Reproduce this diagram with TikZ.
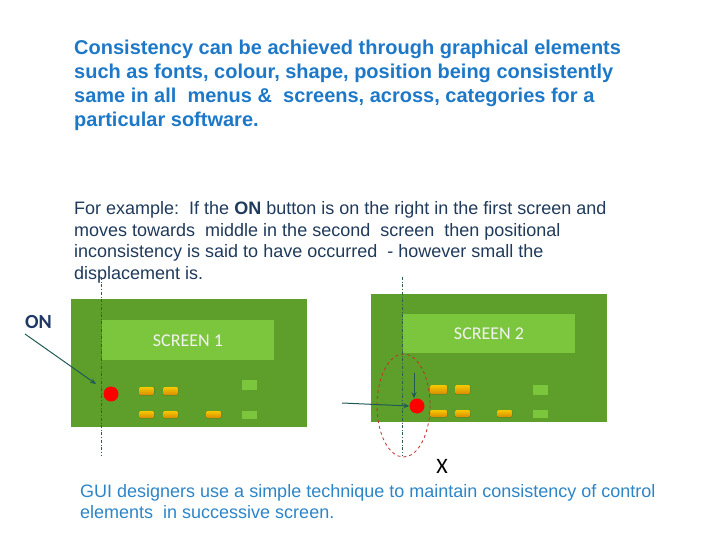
\documentclass[tikz,border=0pt]{standalone}
\usepackage{fontspec}
\setmainfont{Liberation Sans}
\newfontfamily\calib{Carlito}
\usetikzlibrary{arrows.meta}
\definecolor{titleblue}{HTML}{1E78C8}
\definecolor{navy}{HTML}{1F3A5A}
\definecolor{onnavy}{HTML}{1F3864}
\definecolor{botblue}{HTML}{2C85C8}
\definecolor{outergreen}{HTML}{5E9F2C}
\definecolor{innergreen}{HTML}{7CC63E}
\definecolor{btnorange}{HTML}{F2B000}
\definecolor{btnedge}{HTML}{D98C00}
\definecolor{arrowteal}{HTML}{1F5A55}
\definecolor{axis}{HTML}{2E5E48}
\definecolor{ellred}{HTML}{C0302A}
\tikzset{
  panel/.style={fill=outergreen, draw=none},
  lcd/.style={fill=innergreen, draw=none},
  obtn/.style={top color=btnorange!70!yellow, bottom color=btnedge, draw=none, rounded corners=1pt},
  gbtn/.style={fill=innergreen, draw=none},
  ondot/.style={circle, fill=red, draw=none, minimum size=15pt, inner sep=0pt},
  axisline/.style={axis, dash dot, line width=0.7pt},
  pointer/.style={arrowteal, line width=1pt, -{Stealth[length=6pt,width=5pt]}},
  scrlabel/.style={font=\calib\fontsize{18}{18}\selectfont, text=white!90!gray},
  para/.style={anchor=north west, inner sep=0pt, align=left},
}
\begin{document}
\begin{tikzpicture}[x=1pt,y=-1pt]
\useasboundingbox (0,0) rectangle (720,540);
% title
\node[para, text=titleblue, font=\bfseries\fontsize{20}{24}\selectfont] (title) at (74,40)
 {Consistency can be achieved through graphical elements\\
  such as fonts, colour, shape, position being consistently\\
  same in all\ \ menus \&\ \ screens, across, categories for a\\
  particular software.};
% example
\node[para, text=navy, font=\fontsize{18}{21.8}\selectfont] (example) at (74,201)
 {For example:\ \ If the \textbf{ON} button is on the right in the first screen and\\
  moves towards\ \ middle in the second\ \ screen\ \ then positional\\
  inconsistency is said to have occurred\ \ - however small the\\
  displacement is.};
% screen 1
\fill[panel] (71,299) rectangle (307,427);
\fill[lcd] (102,320) rectangle (274,360);
\node[scrlabel] (s1) at (188,341) {SCREEN 1};
\fill[obtn] (139,387) rectangle (154,395);
\fill[obtn] (163,387) rectangle (178,395);
\fill[obtn] (139,411) rectangle (154,418);
\fill[obtn] (163,411) rectangle (178,418);
\fill[obtn] (206,411) rectangle (221,418);
\fill[gbtn] (242,380) rectangle (257,390);
\fill[gbtn] (242,411) rectangle (257,419);
\coordinate (a1top) at (101,277);
\coordinate (a1bot) at (101,455);
\draw[axisline] (a1top) -- (a1bot);
\node[ondot] (dot1) at (111,394) {};
\node[text=onnavy, font=\calib\bfseries\fontsize{20}{20}\selectfont, anchor=base west, inner sep=0pt] (on) at (25,328) {ON};
\coordinate (onstart) at (25,334);
\coordinate (onend) at (96,384);
\draw[pointer] (onstart) -- (onend);
% screen 2
\fill[panel] (371,294) rectangle (607,422);
\fill[lcd] (403,314) rectangle (575,353);
\node[scrlabel] (s2) at (489,334) {SCREEN 2};
\fill[obtn] (430,385) rectangle (447,394);
\fill[obtn] (455,385) rectangle (470,394);
\fill[obtn] (430,410) rectangle (447,417);
\fill[obtn] (455,410) rectangle (470,417);
\fill[obtn] (497,410) rectangle (512,417);
\fill[gbtn] (533,385) rectangle (548,395);
\fill[gbtn] (533,410) rectangle (548,418);
\coordinate (a2top) at (402,277);
\coordinate (a2bot) at (402,455);
\draw[axisline] (a2top) -- (a2bot);
\node[ondot] (dot2) at (417,406) {};
\draw[ellred, dashed, line width=0.8pt] (403.5,405.5) ellipse [x radius=26.5, y radius=51.5];
\coordinate (hstart) at (342,403);
\coordinate (vstart) at (414,373);
\draw[pointer] (hstart) -- (dot2.west);
\draw[pointer] (vstart) -- (dot2.north -| vstart);
\node[font=\calib\fontsize{22}{22}\selectfont, inner sep=0pt] (x) at (442,466) {X};
% bottom
\node[para, text=botblue, font=\fontsize{18}{21}\selectfont] (bottom) at (80,484)
 {GUI designers use a simple technique to maintain consistency of control\\
  elements\ \ in successive screen.};
\end{tikzpicture}
\end{document}
